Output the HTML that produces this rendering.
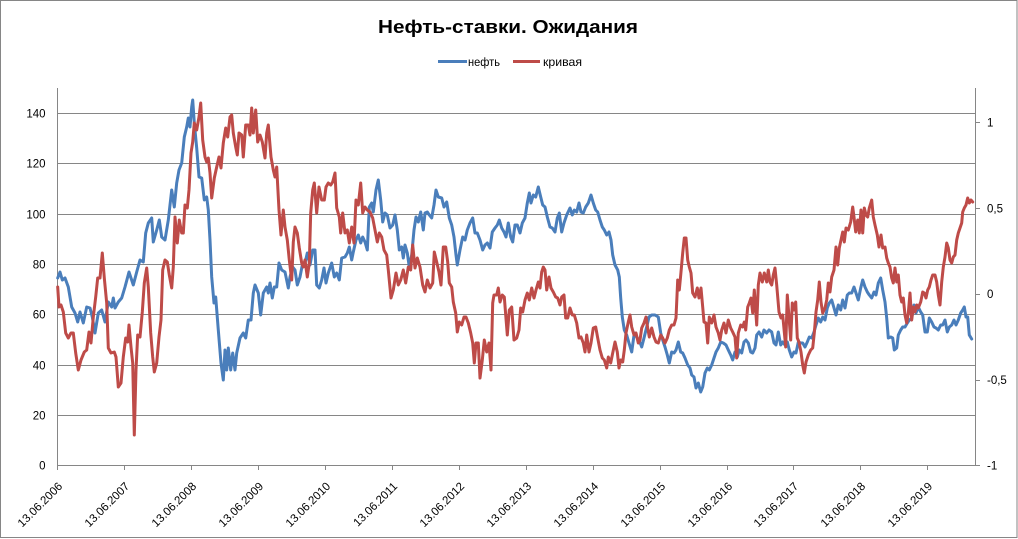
<!DOCTYPE html>
<html><head><meta charset="utf-8"><style>
html,body{margin:0;padding:0;background:#fff;}
svg{display:block;}
text{font-family:"Liberation Sans",Arial,sans-serif;fill:#000;}
</style></head><body>
<svg width="1018" height="539" viewBox="0 0 1018 539" xmlns="http://www.w3.org/2000/svg">
<rect x="0" y="0" width="1018" height="539" fill="#fff"/>
<rect x="0.5" y="0.5" width="1016.5" height="537" fill="none" stroke="#868686" stroke-width="1"/>
<text x="378" y="33" font-size="18" font-weight="bold" textLength="260" lengthAdjust="spacingAndGlyphs">Нефть-ставки. Ожидания</text>
<line x1="438" y1="61.5" x2="467" y2="61.5" stroke="#4A7EBB" stroke-width="3"/>
<text x="468" y="66" font-size="12" textLength="32" lengthAdjust="spacingAndGlyphs">нефть</text>
<line x1="513" y1="61.5" x2="540" y2="61.5" stroke="#BE4B48" stroke-width="3"/>
<text x="543" y="66" font-size="12" textLength="39" lengthAdjust="spacingAndGlyphs">кривая</text>
<g stroke="#868686" stroke-width="1" fill="none">
<line x1="57.5" y1="113.5" x2="975.5" y2="113.5"/>
<line x1="57.5" y1="163.5" x2="975.5" y2="163.5"/>
<line x1="57.5" y1="214.5" x2="975.5" y2="214.5"/>
<line x1="57.5" y1="264.5" x2="975.5" y2="264.5"/>
<line x1="57.5" y1="314.5" x2="975.5" y2="314.5"/>
<line x1="57.5" y1="365.5" x2="975.5" y2="365.5"/>
<line x1="57.5" y1="415.5" x2="975.5" y2="415.5"/>
<line x1="57.5" y1="465.5" x2="975.5" y2="465.5"/>
<line x1="57.5" y1="88" x2="57.5" y2="466"/>
<line x1="975.5" y1="88" x2="975.5" y2="466"/>
<line x1="975.5" y1="122.5" x2="980" y2="122.5"/>
<line x1="975.5" y1="208.5" x2="980" y2="208.5"/>
<line x1="975.5" y1="294.5" x2="980" y2="294.5"/>
<line x1="975.5" y1="380.5" x2="980" y2="380.5"/>
<line x1="975.5" y1="465.5" x2="980" y2="465.5"/>
<line x1="57.5" y1="466" x2="57.5" y2="470"/>
<line x1="124.5" y1="466" x2="124.5" y2="470"/>
<line x1="191.5" y1="466" x2="191.5" y2="470"/>
<line x1="258.5" y1="466" x2="258.5" y2="470"/>
<line x1="325.5" y1="466" x2="325.5" y2="470"/>
<line x1="392.5" y1="466" x2="392.5" y2="470"/>
<line x1="459.5" y1="466" x2="459.5" y2="470"/>
<line x1="526.5" y1="466" x2="526.5" y2="470"/>
<line x1="593.5" y1="466" x2="593.5" y2="470"/>
<line x1="660.5" y1="466" x2="660.5" y2="470"/>
<line x1="727.5" y1="466" x2="727.5" y2="470"/>
<line x1="793.5" y1="466" x2="793.5" y2="470"/>
<line x1="860.5" y1="466" x2="860.5" y2="470"/>
<line x1="927.5" y1="466" x2="927.5" y2="470"/>
</g>
<g font-size="11.5" text-anchor="end">
<text x="45.5" y="117.5">140</text>
<text x="45.5" y="167.5">120</text>
<text x="45.5" y="218.5">100</text>
<text x="45.5" y="268.5">80</text>
<text x="45.5" y="318.5">60</text>
<text x="45.5" y="369.5">40</text>
<text x="45.5" y="419.5">20</text>
<text x="45.5" y="469.5">0</text>
</g>
<g font-size="11.5">
<text x="987" y="126.5">1</text>
<text x="987" y="212.5">0,5</text>
<text x="987" y="298">0</text>
<text x="987" y="384">-0,5</text>
<text x="987" y="469.5">-1</text>
</g>
<g font-size="11.5" text-anchor="end">
<text transform="translate(63,487) rotate(-45)">13.06.2006</text>
<text transform="translate(130,487) rotate(-45)">13.06.2007</text>
<text transform="translate(197,487) rotate(-45)">13.06.2008</text>
<text transform="translate(264,487) rotate(-45)">13.06.2009</text>
<text transform="translate(331,487) rotate(-45)">13.06.2010</text>
<text transform="translate(398,487) rotate(-45)">13.06.2011</text>
<text transform="translate(465,487) rotate(-45)">13.06.2012</text>
<text transform="translate(532,487) rotate(-45)">13.06.2013</text>
<text transform="translate(599,487) rotate(-45)">13.06.2014</text>
<text transform="translate(666,487) rotate(-45)">13.06.2015</text>
<text transform="translate(733,487) rotate(-45)">13.06.2016</text>
<text transform="translate(799,487) rotate(-45)">13.06.2017</text>
<text transform="translate(866,487) rotate(-45)">13.06.2018</text>
<text transform="translate(933,487) rotate(-45)">13.06.2019</text>
</g>
<polyline fill="none" stroke="#4A7EBB" stroke-width="3" stroke-linejoin="round" stroke-linecap="round" points="57.7,278 60,272 62.3,280 65,278 68.3,287 71.7,307 75,313 77.7,322 80,312 83.3,323 86.7,307 90,308 92.3,317 95,333 98.3,313 101.7,310 105,322 108.3,302 111.7,307 113.3,298 115,308 118.3,302 121.7,298 125,287 129,272 133.3,285 136.7,272 140,260 143.3,262 145.7,233 148.3,223 151.7,218 153.3,242 156.7,230 159.3,220 161.7,237 165,240 168.3,220 171.7,190 174.3,207 176.7,183 179,170 181.7,163 184.3,137 186.7,127 188.3,118 190,127 191.7,107 192.7,100 194.3,123 196.7,148 199,177 201.7,178 204.3,200 206.7,197 208.3,210 210,240 211.7,277 214,303 215.7,297 218.3,330 221,363 223.3,380 225,350 226.7,370 228.3,348 230.7,370 232.7,353 235,370 236.7,353 240,338 243.3,333 245.7,338 248.3,320 251,320 253.3,293 255,285 258.3,293 260.7,315 263.3,293 266.7,287 268.3,293 270,283 272.3,298 274.3,287 276.7,287 279,263 281.7,270 285,272 288.3,288 290,277 292.7,267 295,270 297.3,285 300,277 302.7,263 305,263 307.3,253 310,265 312.7,250 315,250 316.7,285 319.3,288 321.7,280 324,268 326,283 328.3,273 331.7,263 334.3,277 336.7,273 339.3,280 341.7,258 345,257 347.3,253 349.3,247 351.7,260 353.3,252 356,240 358.3,235 360.7,243 362.7,237 365,242 367.3,250 369.3,207 371.7,203 373.3,212 376,190 378.3,180 380.7,200 382.7,222 385,213 387.3,215 390,228 392.7,225 395,215 397.3,230 399.3,250 401.7,247 403.3,258 405,245 407.3,253 409.3,267 411.7,255 414,230 416,217 418.3,222 420.7,212 423.3,230 425,213 427.3,212 429.3,215 431.7,218 434,205 436,190 438.3,197 441.7,198 444,207 446.7,202 449.3,218 451.7,225 454,237 456,255 457.3,265 460,250 462.7,237 465,240 467.3,230 470,223 472.7,218 475,233 477.3,233 480,240 482.7,250 485,245 487.3,243 490,248 492.3,232 495,228 497.3,225 499.3,220 501.7,228 504,232 506,237 508.3,223 510.7,237 512.7,242 515,225 517.3,225 520,233 522.3,223 525,218 527.3,203 529.3,193 531,203 533.3,195 535.7,197 538.3,187 540.7,197 542.7,205 545,207 547.3,217 550,227 552.3,228 555,232 557.3,218 559.3,213 561.7,232 564,223 566.7,215 570,208 572.3,215 574.3,210 576.7,212 579,203 581,212 583.3,213 585.7,207 588.3,203 591,195 593.3,203 595.7,210 597.7,212 600,220 602.3,227 604.3,230 606.7,235 609,232 611,240 612.7,255 615,265 617.7,270 619.3,277 620.7,298 622.3,317 624.3,330 626.7,335 629,343 631.7,352 634.3,333 636.7,337 639,340 641.7,347 644,338 646.7,327 649,317 651.7,315 655,315 658.3,317 660.7,333 662.7,340 665,347 667.3,355 669.3,363 671.7,352 674,353 676,350 678.3,342 680.7,352 682.7,353 685,358 687.7,365 690,368 691.7,375 694,377 696,388 698.3,383 700.7,392 702.7,387 705,373 707.3,368 709.3,370 711.7,365 714,358 716,352 718.3,348 720.7,342 723.3,343 726,345 728.3,350 730.7,355 732.7,360 735,352 737.3,357 739.3,350 741.7,353 744,342 746,340 748.3,343 750.7,352 752.7,353 755,348 756.7,335 759,332 761.7,337 764,330 766.7,333 769,330 771.7,332 774,343 776,345 778.3,332 780.7,345 782.7,342 785,345 787.3,342 789.3,350 791.7,357 794,352 796,353 798.3,342 800.7,343 802.7,343 805,347 807.3,342 809.3,337 811.7,338 814,332 816,325 818.3,318 820.7,322 822.7,317 825,320 827.3,308 829.3,303 831.7,300 834,308 836,315 838.3,305 840.7,310 842.7,300 845,308 847.3,295 849.3,293 851.7,293 854,287 856,293 858.3,300 860.7,288 862.7,280 865,287 867.3,292 869.3,295 871.7,298 874,292 876,295 878.3,283 880.7,278 882.7,290 885,302 886.7,318 888.3,338 890.7,337 892.7,338 894.3,350 896.7,348 898.3,335 900.7,330 902.7,327 905,327 907.3,323 909.3,320 911.7,318 914,305 916,313 918.3,307 920.7,312 922.7,315 925,332 927.3,332 929.3,318 931.7,322 934,327 936,328 938.3,330 940.7,325 942.7,325 945,320 947.3,332 949.3,327 951.7,325 954,320 956,325 958.3,320 960.7,313 962.7,310 964.3,307 966,317 967.7,317 969.3,335 971.7,339"/>
<polyline fill="none" stroke="#BE4B48" stroke-width="3" stroke-linejoin="round" stroke-linecap="round" points="57.7,287 59,307 61,305 63.3,312 65.7,333 68.3,338 71,333 73.3,333 75.7,353 78.3,370 81,360 84.3,352 86.7,350 89,332 91,343 93.3,317 95.7,297 97.7,278 100,278 102.3,253 104.3,278 106.7,303 108.3,348 111,353 114.3,352 116,357 118.3,387 121,383 123.3,357 125.7,338 127.7,342 129,325 131,347 132.7,363 134.3,435 136,370 137.7,335 140,337 142.3,312 144.3,283 146.7,268 148.3,287 150.7,333 152.7,357 154.3,372 156.7,363 159,337 161,320 162.7,270 165,260 167.3,262 169.3,275 171.7,288 173.3,267 175,217 177.3,243 179.3,220 181.7,233 183.3,233 185,205 187.3,208 189,190 191,153 192.7,142 194.3,123 196.7,130 199,117 200.7,103 202.7,140 205,157 206.7,162 208.3,158 210,173 211.7,198 214.3,178 216.7,167 219,157 221,168 223.3,143 225.7,128 227.7,137 230,117 231.7,115 233.3,133 235.7,147 237.3,155 239,133 241.7,135 243.3,157 245.7,125 248.3,125 250,135 251.7,108 253.3,133 255.7,110 257.7,142 260,135 262.3,142 265,158 266.7,133 268.3,125 271,157 273.3,170 275,177 276.7,167 279,210 281,235 283.3,210 285,227 287.3,240 289.3,260 291.7,280 293.3,242 295,227 297.3,233 299.3,248 301.7,263 303.3,267 305,260 307.3,277 309.3,263 310.7,213 312.7,190 314.3,183 316.7,213 319,187 321.7,200 324.3,200 326,187 328.3,183 330.7,185 332.7,182 335,173 336.7,208 339.3,217 340.7,233 342.7,213 345,233 347.3,230 349.3,243 351.7,227 354,243 356,200 358.3,205 360.7,183 362.7,213 365,207 367.3,210 370,212 372.7,218 375,230 377.3,242 379.3,233 381.7,237 384,250 386.7,255 388.3,270 391,298 393.3,290 396,273 398.3,285 400.7,280 403.3,270 405.7,283 408.3,267 410.7,270 412.7,245 415,268 417.3,258 420,267 422.7,285 425,292 427.3,280 430,288 432.7,283 434.3,252 436.7,262 439,272 441,285 443.3,247 445.7,247 447.7,262 449.3,283 451.7,287 453.3,302 455.7,313 457.3,332 459.3,322 461.7,325 464,317 466,317 468.3,323 470.7,333 472.7,343 474.3,363 476,343 478.3,343 480,378 482.3,360 484.3,340 486.7,352 489,343 491,370 492.7,303 494,295 496.7,295 498.3,288 500,302 502.3,295 504.3,297 507.3,335 509.3,310 511.7,307 514,340 516.7,338 519,330 520.7,308 522.7,312 525,300 527.3,293 529.3,300 531.7,288 534,298 536,290 538.3,282 540,288 541.7,272 543.3,267 545,270 546.7,290 549,277 551,288 553.3,292 555.7,297 557.7,298 560,305 561.7,297 564,295 565.7,318 567.7,318 570,308 572.3,315 574.3,315 576.7,323 579,338 581,337 583.3,343 585,352 586.7,335 589,352 591,343 593.3,328 595.7,327 597.7,338 600,350 602.3,358 604.3,360 606.7,368 608.3,357 610.7,363 612.3,355 615,342 617.3,352 619,368 620.7,360 622.7,362 624.3,350 626,333 628.3,322 630,315 631.7,327 634,335 636,333 638.3,343 640,340 641.7,328 644,323 646,317 647.7,328 649.3,337 651.7,328 654,337 656,342 658.3,343 660.7,335 662.7,338 665,343 667.3,338 669.3,330 671.7,325 674,325 676,318 677.7,280 679.3,290 681,272 682.7,253 684.3,238 686,238 687.7,260 689.3,267 691,273 692.7,293 695,297 697.3,288 699,298 701,288 702.7,307 704,322 706,323 707.7,343 709.3,317 711.7,323 714,315 716,327 718.3,333 720,340 721.7,330 724,323 726,333 728.3,320 730.7,328 732.7,332 735,337 736.7,358 738.3,333 740.7,325 742.7,327 744.3,322 745.7,330 747.7,307 749.3,303 751,298 752.7,313 754.3,290 756.7,325 758.3,285 760,273 762.3,282 764.3,273 766.7,282 768.3,270 770,282 771.7,285 773.3,275 775,268 776.7,285 779,312 781,318 782.7,315 784.3,332 785.7,347 787.3,295 789,317 790.7,340 792.3,303 794,310 795.7,302 797.3,338 799,342 801,352 802.7,365 804.3,373 806,362 808.3,355 810.7,350 812.7,348 814.3,333 816,312 817.7,300 819.3,282 821,302 822.7,313 825,308 826.7,300 828.3,283 830,292 831.7,277 834,270 836,247 837.7,265 839.3,248 841,240 842.7,232 844.3,242 846,228 848.3,230 850.7,222 852.7,207 854,217 855.7,232 857.7,220 859.3,233 861,210 862.7,233 864.3,208 866,215 867.7,217 869.3,208 871.7,200 873.3,217 875,225 877.3,235 879,247 881,235 882.7,248 885,247 886.7,258 888.3,263 890,267 891.7,278 893.3,283 895,268 896.7,282 898.3,275 900,295 901.7,302 903.3,298 905,315 906.7,323 908.3,313 910,293 911.7,320 913.3,307 915,312 916.7,305 918.3,308 920.7,302 922.7,292 924.3,293 926,298 927.7,290 929.3,287 931,280 932.7,275 935,275 936.7,282 938.3,295 940,305 941.7,282 943.3,267 945,257 946.7,243 948.3,248 950,260 951.7,263 953.3,257 955,255 956.7,240 958.3,233 960,228 961.7,223 962.7,212 964.3,208 966,205 967.7,198 969.3,203 971,200 972.7,202"/>
</svg>
</body></html>
